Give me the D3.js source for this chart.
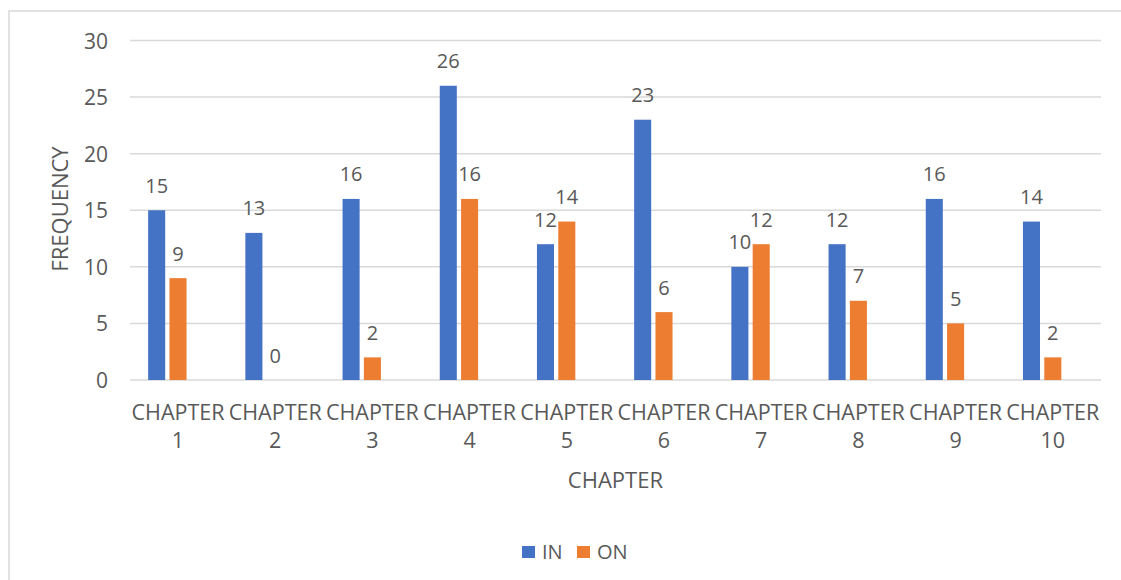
<!DOCTYPE html>
<html>
<head>
<meta charset="utf-8">
<script src="https://cdn.jsdelivr.net/npm/d3@7"></script>
<style>
  html, body { margin: 0; padding: 0; background: #fff; }
  svg { display: block; }
  text { font-family: "Open Sans", "Noto Sans", sans-serif; fill: #595959; }
</style>
</head>
<body>
<svg id="chart" width="1121" height="580"></svg>
<script>
// Chapter categories and the two frequency series
const chapters = ["CHAPTER 1", "CHAPTER 2", "CHAPTER 3", "CHAPTER 4", "CHAPTER 5",
                  "CHAPTER 6", "CHAPTER 7", "CHAPTER 8", "CHAPTER 9", "CHAPTER 10"];
const seriesNames = ["IN", "ON"];
const inValues = [15, 13, 16, 26, 12, 23, 10, 12, 16, 14];
const onValues = [9, 0, 2, 16, 14, 6, 12, 7, 5, 2];
const yTicks = [0, 5, 10, 15, 20, 25, 30];
const colors = { IN: "#4472C4", ON: "#ED7D31" };

const svg = d3.select("#chart");

// Outer chart frame
svg.append("rect")
  .attr("x", 9).attr("y", 11)
  .attr("width", 1130).attr("height", 600)
  .attr("fill", "#fff")
  .attr("stroke", "#d9d9d9").attr("stroke-width", 1.5);

const plot = { left: 129.4, right: 1101.4, top: 40.5, bottom: 380 };

const x0 = d3.scaleBand().domain(chapters).range([plot.left, plot.right]).padding(0);
// three slots per cluster; the third stays empty
const x1 = d3.scaleBand().domain(["IN", "ON", "_"])
  .range([x0.bandwidth() * 0.171, x0.bandwidth() * 0.829])
  .paddingInner(0.2).paddingOuter(0.1);
const y = d3.scaleLinear().domain([0, 30]).range([plot.bottom, plot.top]);

// Gridlines
svg.append("g").selectAll("line").data(yTicks).join("line")
  .attr("x1", 130).attr("x2", 1101)
  .attr("y1", d => y(d)).attr("y2", d => y(d))
  .attr("stroke", "#d9d9d9").attr("stroke-width", 1.5);

// Y axis labels
const yAxis = d3.axisLeft(y).tickValues(yTicks).tickSize(0).tickPadding(0);
const yg = svg.append("g").attr("transform", "translate(108,0)").call(yAxis);
yg.select(".domain").remove();
yg.selectAll("text")
  .attr("font-size", 21).attr("font-family", "Open Sans, sans-serif")
  .attr("fill", "#595959").attr("dy", "0.36em");

const data = chapters.map((c, i) => ({ chapter: c, IN: inValues[i], ON: onValues[i] }));

const groups = svg.append("g").selectAll("g").data(data).join("g")
  .attr("transform", d => `translate(${x0(d.chapter)},0)`);

groups.selectAll("rect")
  .data(d => seriesNames.map(k => ({ key: k, value: d[k] })))
  .join("rect")
  .attr("x", d => x1(d.key))
  .attr("width", x1.bandwidth())
  .attr("y", d => y(d.value))
  .attr("height", d => y(0) - y(d.value))
  .attr("fill", d => colors[d.key]);

// Value labels above each bar
groups.selectAll("text.val")
  .data(d => seriesNames.map(k => ({ key: k, value: d[k] })))
  .join("text")
  .attr("class", "val")
  .attr("x", d => x1(d.key) + x1.bandwidth() / 2)
  .attr("y", d => y(d.value) - 17.5)
  .attr("text-anchor", "middle")
  .attr("font-size", 20)
  .text(d => d.value);

// Category labels, wrapped onto two lines
const xg = svg.append("g");
chapters.forEach(c => {
  const parts = c.split(" ");
  const t = xg.append("text")
    .attr("x", x0(c) + x0.bandwidth() / 2)
    .attr("y", 420)
    .attr("text-anchor", "middle")
    .attr("font-size", 21.5);
  t.append("tspan").attr("x", x0(c) + x0.bandwidth() / 2).text(parts[0]);
  t.append("tspan").attr("x", x0(c) + x0.bandwidth() / 2).attr("dy", 28).text(parts[1]);
});

// Axis titles
svg.append("text")
  .attr("x", (plot.left + plot.right) / 2).attr("y", 488)
  .attr("text-anchor", "middle").attr("font-size", 22)
  .text("CHAPTER");

svg.append("text")
  .attr("transform", "translate(68,209) rotate(-90)")
  .attr("text-anchor", "middle").attr("font-size", 22)
  .text("FREQUENCY");

// Legend
const legend = svg.append("g");
const legendItems = [
  { key: "IN", sx: 522, tx: 542 },
  { key: "ON", sx: 577, tx: 597 }
];
legend.selectAll("rect").data(legendItems).join("rect")
  .attr("x", d => d.sx).attr("y", 546)
  .attr("width", 13).attr("height", 12)
  .attr("fill", d => colors[d.key]);
legend.selectAll("text").data(legendItems).join("text")
  .attr("x", d => d.tx).attr("y", 559)
  .attr("font-size", 20)
  .text(d => d.key);
</script>
</body>
</html>
